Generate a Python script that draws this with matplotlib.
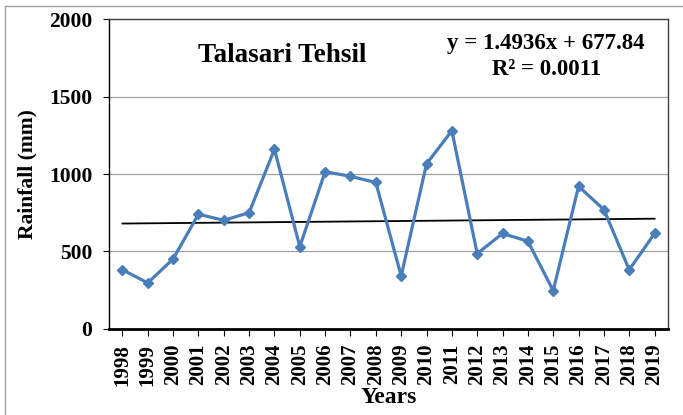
import numpy as np
import matplotlib
matplotlib.use("Agg")
import matplotlib.pyplot as plt
from matplotlib.lines import Line2D

years = [str(y) for y in range(1998, 2020)]
rainfall = [380, 295, 450, 740, 700, 750, 1160, 530, 1015, 985, 945,
            340, 1065, 1280, 485, 615, 565, 245, 920, 770, 380, 615]

# trend line from the equation shown on the chart
slope = 1.4936
intercept = 677.84

plt.rcParams['font.family'] = ['Liberation Serif', 'DejaVu Serif']
plt.rcParams['font.weight'] = 'bold'

fig = plt.figure(figsize=(6.83, 4.15), dpi=100)
# light grey frame round the figure (only top and left show)
fx, fy = 4.5 / 683, (415 - 6.5) / 415
fig.lines.append(Line2D([fx, 1.0], [fy, fy], transform=fig.transFigure,
                        color='#a0a0a0', linewidth=1.0))
fig.lines.append(Line2D([fx, fx], [0.0, fy], transform=fig.transFigure,
                        color='#a0a0a0', linewidth=1.0))

ax = fig.add_axes([109 / 683, (415 - 328.5) / 415, (668 - 109) / 683, (328.5 - 19.5) / 415])

x = np.arange(len(years))
ax.plot(x, rainfall, color='#4a7ebb', linewidth=2.3, marker='D',
        markersize=5.5, zorder=3)
xn = x + 1
ax.plot(x, slope * xn + intercept, color='black', linewidth=1.3, zorder=2)

ax.set_xlim(-0.53, len(years) - 0.47)
ax.set_ylim(0, 2000)
ax.set_yticks([0, 500, 1000, 1500, 2000])
ax.set_xticks(x)
ax.set_xticklabels(years, rotation=90, fontsize=15, fontweight='bold')
ax.tick_params(axis='y', labelsize=15.5, length=4, direction='out', pad=8)
ax.tick_params(axis='x', length=5, direction='out', pad=6)
for lab in ax.get_yticklabels():
    lab.set_fontweight('bold')

ax.yaxis.grid(True, color='#a0a0a0', linewidth=0.9)
ax.set_axisbelow(True)
for side in ['top', 'right']:
    ax.spines[side].set_color('#404040')
    ax.spines[side].set_linewidth(1.0)
ax.spines['left'].set_linewidth(1.0)
ax.spines['bottom'].set_linewidth(2.0)

ax.set_ylabel('Rainfall (mm)', fontsize=15.5, fontweight='bold', labelpad=8)
ax.set_xlabel('Years', fontsize=17, fontweight='bold', labelpad=1)

ax.text(0.31, 0.885, 'Talasari Tehsil', transform=ax.transAxes,
        fontsize=19.5, fontweight='bold', ha='center', va='center')
ax.text(0.782, 0.88, 'y = 1.4936x + 677.84\nR² = 0.0011', transform=ax.transAxes,
        fontsize=16.5, fontweight='bold', ha='center', va='center', linespacing=1.28)

fig.savefig('out.png', dpi=100)
